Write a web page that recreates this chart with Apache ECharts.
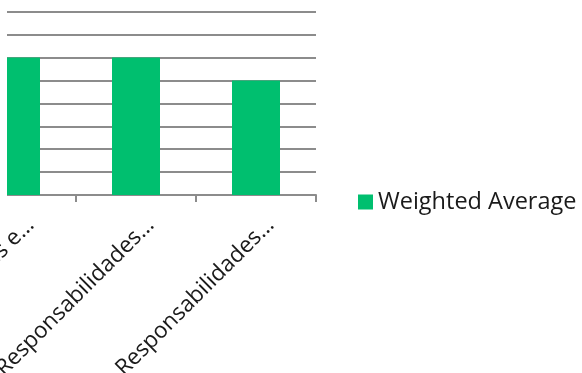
<!DOCTYPE html>
<html>
<head>
<meta charset="utf-8">
<script src="https://cdn.jsdelivr.net/npm/echarts@6/dist/echarts.min.js"></script>
<style>
  html, body { margin: 0; padding: 0; background: #fff; }
  #chart { width: 582px; height: 373px; }
</style>
</head>
<body>
<div id="chart"></div>
<script>
// categorias (ya vienen truncadas en la imagen)
var categories = ['Responsabilidades e…', 'Responsabilidades…', 'Responsabilidades…'];
var weightedAvg = [6, 6, 5];
var seriesName = 'Weighted Average';

var chart = echarts.init(document.getElementById('chart'));
chart.setOption({
    animation: false,
    textStyle: { fontFamily: 'Open Sans' },
    grid: {
        left: -44,
        top: 11.7,
        width: 360,
        height: 183.3,
        containLabel: false,
        outerBoundsMode: 'none'
    },
    legend: {
        left: 353,
        top: 185,
        itemWidth: 15,
        itemHeight: 15,
        icon: 'rect',
        data: [seriesName],
        textStyle: { fontSize: 23.5, color: '#1a1a1a', fontFamily: 'Open Sans' }
    },
    xAxis: {
        type: 'category',
        data: categories,
        axisLine: { lineStyle: { color: '#8c8c8c', width: 2 } },
        axisTick: { show: true, alignWithLabel: false, length: 7, lineStyle: { color: '#8c8c8c', width: 2 } },
        axisLabel: {
            rotate: 45,
            margin: 12,
            fontSize: 22.5,
            color: '#1a1a1a',
            verticalAlign: 'top',
            padding: [9, 0, 0, 0],
            interval: 0
        }
    },
    yAxis: {
        type: 'value',
        min: 0,
        max: 8,
        interval: 1,
        axisLabel: { show: false },
        axisLine: { show: false },
        axisTick: { show: false },
        splitLine: { lineStyle: { color: '#8c8c8c', width: 2 } }
    },
    graphic: [{
        type: 'rect',
        left: 0,
        top: 0,
        shape: { width: 7, height: 205 },
        style: { fill: '#fff' },
        z: 100
    }],
    series: [{
        name: seriesName,
        type: 'bar',
        barWidth: '40%',
        data: weightedAvg,
        itemStyle: { color: '#00bf6f' }
    }]
});
</script>
</body>
</html>
